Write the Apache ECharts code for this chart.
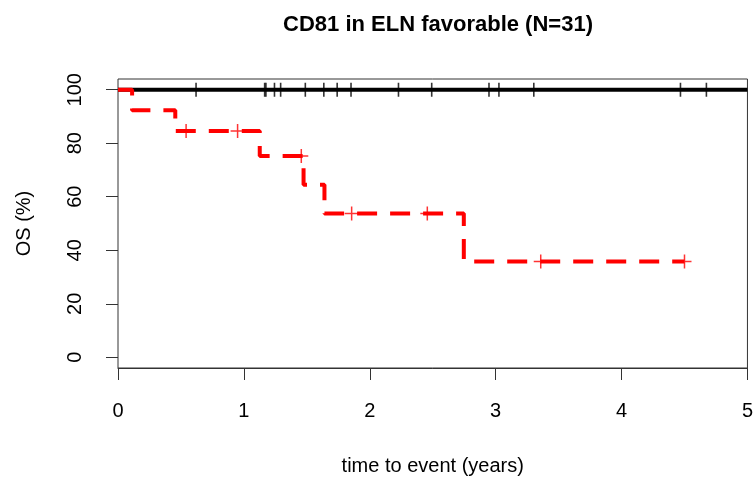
<!DOCTYPE html>
<html>
<head>
<meta charset="utf-8">
<script src="https://cdn.jsdelivr.net/npm/echarts@6/dist/echarts.min.js"></script>
<style>html,body{margin:0;padding:0;background:#fff;}#c{width:756px;height:485px;}</style>
</head>
<body>
<div id="c"></div>
<script>
// Data (Kaplan-Meier, OS %)
const titleText = "CD81 in ELN favorable (N=31)";
const xTicks = [0, 1, 2, 3, 4, 5];
const yTicks = [0, 20, 40, 60, 80, 100];

// Black group (no events)
const blackTimes = [0, 5];
const blackSurv = [100, 100];
const blackCensorTimes = [0.62, 1.165, 1.175, 1.243, 1.292, 1.488, 1.635, 1.741, 1.851, 2.228, 2.492, 2.947, 3.026, 3.303, 4.468, 4.674];
const blackCensorSurv = [100, 100, 100, 100, 100, 100, 100, 100, 100, 100, 100, 100, 100, 100, 100, 100];

// Red group
const redTimes = [0, 0.112, 0.455, 1.126, 1.474, 1.640, 2.747, 4.500];
const redSurv = [100, 92.3, 84.6, 75.2, 64.5, 53.7, 35.8, 35.8];
const redCensorTimes = [0.541, 0.950, 1.456, 1.856, 2.457, 3.358, 4.500];
const redCensorSurv = [84.6, 84.6, 75.2, 53.7, 53.7, 35.8, 35.8];

const zip = (a, b) => a.map((v, i) => [v, b[i]]);
const plus = 'path://M6,0L6,12M0,6L12,6';
const font = 'Liberation Sans, Arial, sans-serif';
const axisCol = '#333';

const chart = echarts.init(document.getElementById('c'), null, {renderer: 'canvas'});
chart.setOption({
  animation: false,
  backgroundColor: '#fff',
  title: {
    text: titleText,
    left: 433, top: 9, textAlign: 'center',
    textStyle: {fontFamily: font, fontSize: 22, fontWeight: 'bold', color: '#000'}
  },
  grid: {left: 118, right: 7, top: 79, bottom: 117, show: true, borderColor: axisCol, borderWidth: 1, containLabel: false},
  xAxis: {
    type: 'value', min: 0, max: 5, interval: 1,
    name: 'time to event (years)', nameLocation: 'middle', nameGap: 88,
    nameTextStyle: {fontFamily: font, fontSize: 20, color: '#000'},
    axisLine: {show: true, onZero: false, lineStyle: {color: axisCol, width: 1}},
    axisTick: {show: true, length: 12, inside: false, lineStyle: {color: axisCol}},
    axisLabel: {fontFamily: font, fontSize: 20, color: '#000', margin: 33,
      formatter: v => xTicks.includes(v) ? String(v) : ''},
    splitLine: {show: false}
  },
  yAxis: {
    type: 'value', min: -4, max: 104,
    name: 'OS (%)', nameLocation: 'middle', nameGap: 84, nameRotate: 90,
    nameTextStyle: {fontFamily: font, fontSize: 20, color: '#000'},
    axisLine: {show: false},
    axisTick: {show: true, length: 12, customValues: yTicks, lineStyle: {color: axisCol}},
    axisLabel: {fontFamily: font, fontSize: 20, color: '#000', rotate: 90, margin: 33, customValues: yTicks},
    splitLine: {show: false}
  },
  series: [
    {type: 'line', data: zip(blackTimes, blackSurv), step: 'end', symbol: 'none', z: 2,
      lineStyle: {color: '#000', width: 4}},
    {type: 'scatter', data: zip(blackCensorTimes, blackCensorSurv), symbol: plus, symbolSize: 14, z: 3,
      itemStyle: {color: 'transparent', borderColor: '#000', borderWidth: 1.6}},
    {type: 'line', data: zip(redTimes, redSurv), step: 'end', symbol: 'none', z: 4,
      lineStyle: {color: '#ff0000', width: 4, type: [20, 13], cap: 'butt'}},
    {type: 'scatter', data: zip(redCensorTimes, redCensorSurv), symbol: plus, symbolSize: 14, z: 5,
      itemStyle: {color: 'transparent', borderColor: '#ff0000', borderWidth: 1.5}}
  ]
});
</script>
</body>
</html>
